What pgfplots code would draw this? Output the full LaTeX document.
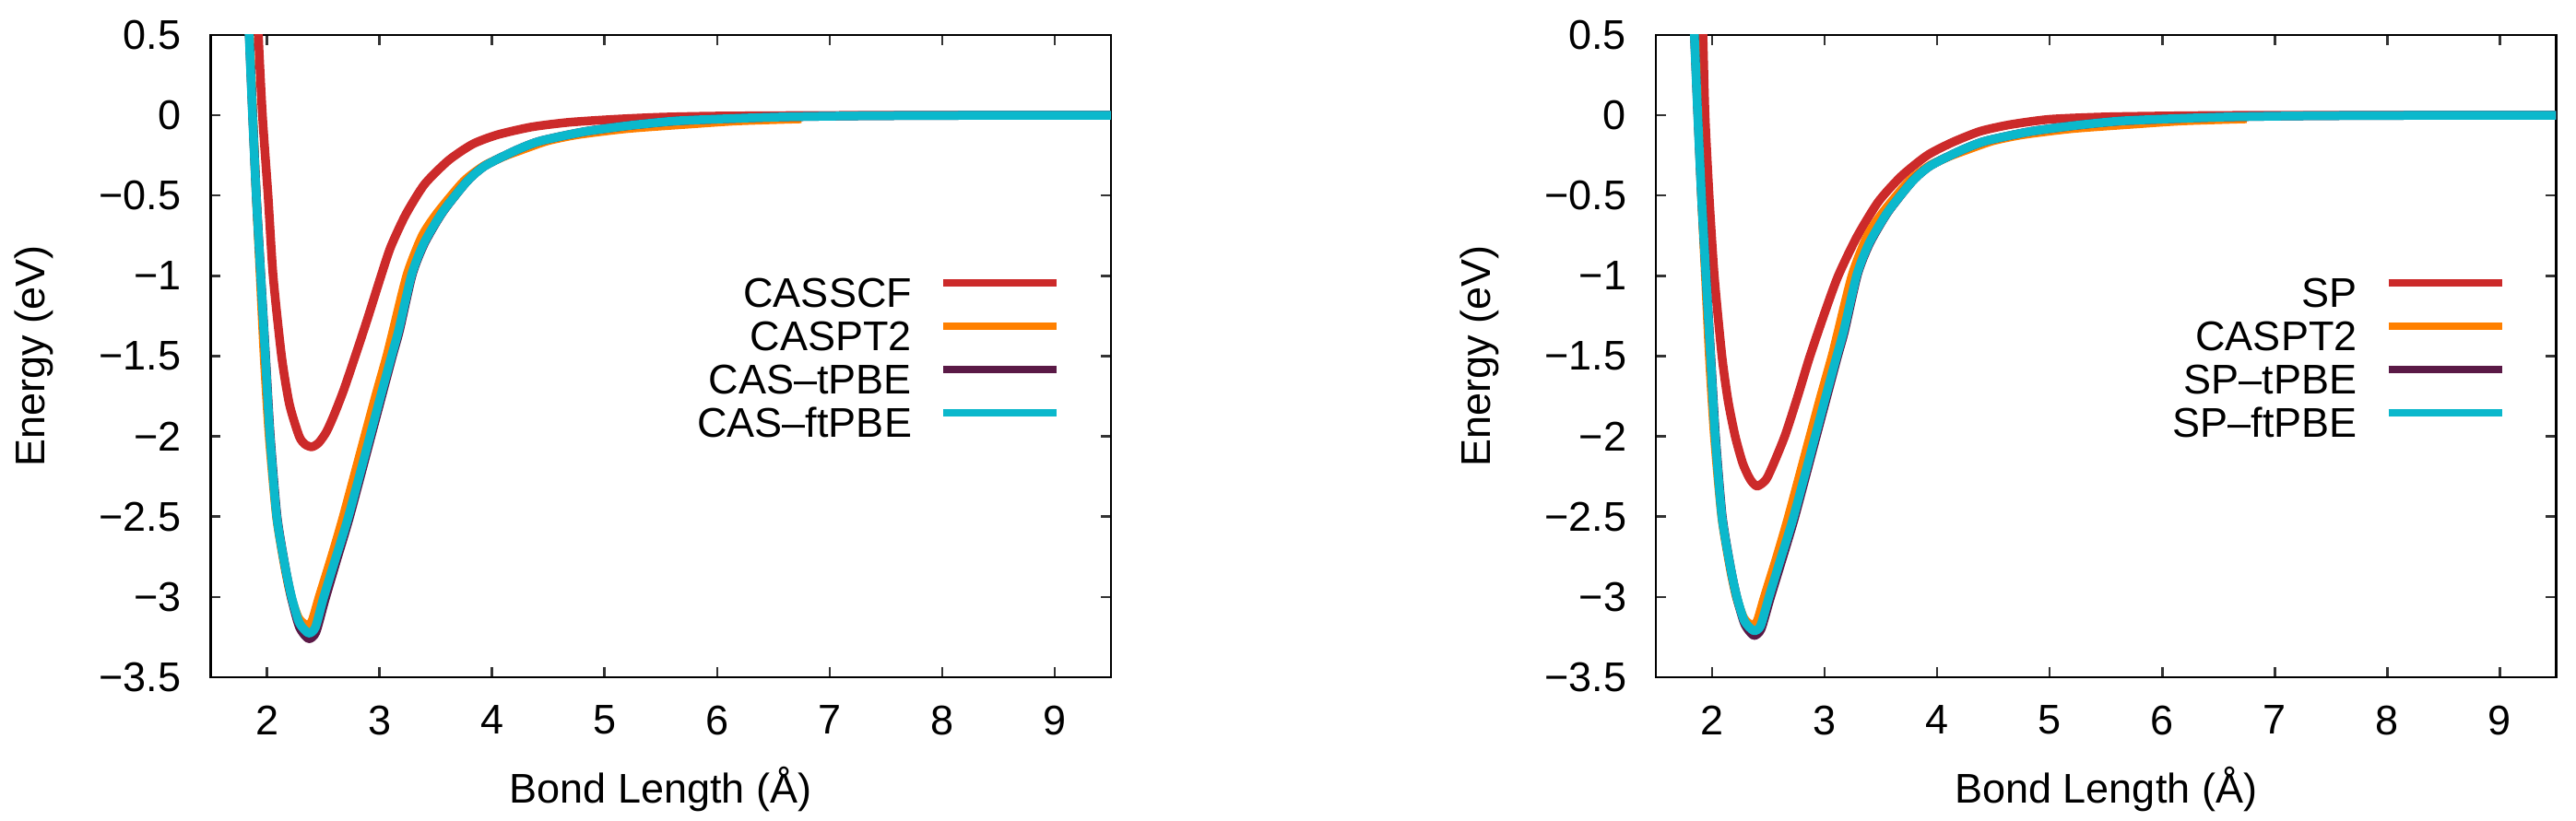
\documentclass[border=0pt]{standalone}
\usepackage{fontspec}
\setmainfont{Liberation Sans}
\usepackage{pgfplots}
\usepackage{pgfplotstable}
\pgfplotsset{compat=1.18}

\definecolor{cred}{HTML}{CC2A2A}
\definecolor{corange}{HTML}{FF8000}
\definecolor{cpurple}{HTML}{5A1946}
\definecolor{ccyan}{HTML}{0BB8CC}
\newcommand\lbl{\fontsize{9}{10.8}\selectfont}

% left panel
\pgfplotstableread{
x y
1.88 1.3
1.924 0.5
1.96 0.0
2.01 -0.5
2.055 -1.0
2.13 -1.5
2.20 -1.80
2.287 -2.0
2.34 -2.05
2.40 -2.065
2.46 -2.04
2.53 -1.97
2.60 -1.86
2.683 -1.71
2.78 -1.51
2.888 -1.28
3.014 -1.0
3.10 -0.82
3.232 -0.62
3.40 -0.43
3.615 -0.28
3.83 -0.179
4.05 -0.121
4.35 -0.073
4.68 -0.044
5.09 -0.025
5.5 -0.012
6.0 -0.005
7.0 -0.001
8.0 0
9.5 0
}\casscf

\pgfplotstableread{
x y
1.80 1.2
1.845 0.5
1.875 0.0
1.905 -0.5
1.94 -1.0
1.975 -1.5
2.02 -2.0
2.085 -2.5
2.16 -2.82
2.215 -3.0
2.28 -3.13
2.35 -3.175
2.40 -3.15
2.464 -3.0
2.57 -2.76
2.678 -2.5
2.869 -2.0
2.965 -1.75
3.065 -1.5
3.117 -1.353
3.246 -0.99
3.38 -0.75
3.52 -0.602
3.75 -0.41
3.93 -0.314
4.107 -0.256
4.257 -0.217
4.49 -0.16
4.76 -0.121
5.2 -0.083
5.77 -0.054
6.18 -0.035
6.75 -0.022
}\caspt

\pgfplotstableread{
x y
1.80 1.25
1.843 0.5
1.873 0.0
1.906 -0.5
1.946 -1.0
1.988 -1.5
2.03 -2.0
2.09 -2.5
2.167 -2.83
2.222 -3.02
2.29 -3.19
2.37 -3.26
2.435 -3.22
2.515 -3.02
2.62 -2.77
2.735 -2.5
2.925 -2.0
3.02 -1.75
3.115 -1.5
3.178 -1.34
3.292 -0.99
3.40 -0.797
3.562 -0.603
3.78 -0.41
3.94 -0.314
4.216 -0.217
4.43 -0.16
4.82 -0.102
5.23 -0.063
5.64 -0.035
6.18 -0.019
6.6 -0.01
7.2 -0.004
8.0 -0.001
9.5 0
}\castpbe

\pgfplotstableread{
x y
1.80 1.25
1.842 0.5
1.872 0.0
1.905 -0.5
1.945 -1.0
1.986 -1.5
2.027 -2.0
2.087 -2.5
2.164 -2.82
2.219 -3.0
2.287 -3.16
2.369 -3.225
2.43 -3.19
2.505 -3.0
2.61 -2.76
2.724 -2.5
2.915 -2.0
3.01 -1.75
3.107 -1.5
3.17 -1.34
3.287 -0.99
3.396 -0.795
3.56 -0.602
3.78 -0.41
3.94 -0.314
4.216 -0.217
4.43 -0.16
4.82 -0.102
5.23 -0.063
5.64 -0.035
6.18 -0.019
6.6 -0.01
7.2 -0.004
8.0 -0.001
9.5 0
}\casftpbe

% right panel
\pgfplotstableread{
x y
1.89 1.2
1.918 0.5
1.937 0.0
1.973 -0.5
2.019 -1.0
2.087 -1.5
2.142 -1.78
2.205 -2.0
2.273 -2.17
2.34 -2.27
2.40 -2.31
2.478 -2.27
2.546 -2.17
2.65 -1.99
2.765 -1.74
2.869 -1.5
3.005 -1.22
3.12 -1.0
3.284 -0.76
3.475 -0.54
3.68 -0.38
3.91 -0.25
4.13 -0.17
4.38 -0.10
4.65 -0.058
5.0 -0.025
5.5 -0.01
6.2 -0.003
7.0 0
9.5 0
}\sp

\pgfplotstableread{
x y
1.80 1.25
1.843 0.5
1.873 0.0
1.906 -0.5
1.946 -1.0
1.988 -1.5
2.03 -2.0
2.09 -2.5
2.167 -2.83
2.222 -3.01
2.29 -3.17
2.37 -3.24
2.435 -3.2
2.515 -3.01
2.62 -2.77
2.735 -2.5
2.925 -2.0
3.02 -1.75
3.115 -1.5
3.178 -1.34
3.292 -0.99
3.40 -0.797
3.562 -0.603
3.78 -0.41
3.94 -0.314
4.216 -0.217
4.43 -0.16
4.82 -0.102
5.23 -0.063
5.64 -0.035
6.18 -0.019
6.6 -0.01
7.2 -0.004
8.0 -0.001
9.5 0
}\sptpbe

\pgfplotstableread{
x y
1.80 1.25
1.842 0.5
1.872 0.0
1.905 -0.5
1.945 -1.0
1.986 -1.5
2.027 -2.0
2.087 -2.5
2.164 -2.82
2.219 -3.0
2.287 -3.15
2.369 -3.21
2.43 -3.18
2.505 -3.0
2.61 -2.76
2.724 -2.5
2.915 -2.0
3.01 -1.75
3.107 -1.5
3.17 -1.34
3.287 -0.99
3.396 -0.795
3.56 -0.602
3.78 -0.41
3.94 -0.314
4.216 -0.217
4.43 -0.16
4.82 -0.102
5.23 -0.063
5.64 -0.035
6.18 -0.019
6.6 -0.01
7.2 -0.004
8.0 -0.001
9.5 0
}\spftpbe

\pgfplotsset{
  pes/.style={
    scale only axis, width=195.3pt, height=139.4pt,
    xmin=1.5, xmax=9.5, ymin=-3.5, ymax=0.5,
    xtick={2,...,9}, ytick={-3.5,-3,...,0.5},
    yticklabels={−3.5,−3,−2.5,−2,−1.5,−1,−0.5,0,0.5},
    tick align=inside, tick pos=both, major tick length=2.2pt,
    axis line style={line width=0.5pt},
    tick style={line width=0.5pt, black!80},
    /pgf/number format/assume math mode=true,
    ticklabel style={font=\lbl},
    yticklabel style={inner sep=0pt, xshift=-6.2pt},
    xticklabel style={inner sep=0pt, yshift=-6pt},
    every axis y label/.style={at={(rel axis cs:0,0.5)}, xshift=-38.3pt, rotate=90, anchor=center, font=\lbl},
    every axis x label/.style={at={(rel axis cs:0.5,0)}, yshift=-24.4pt, anchor=center, font=\lbl},
    xlabel={Bond Length (Å)}, ylabel={Energy (eV)},
    legend plot pos=right, legend cell align=right,
    legend image code/.code={\draw[#1, line width=1.6pt] (0pt,3.26pt) -- (24.6pt,3.26pt);},
    legend style={draw=none, fill=none, inner sep=0pt, outer sep=0pt, row sep=0pt, column sep=6pt, font=\lbl,
      nodes={inner sep=0pt, outer sep=0pt, text height=6.6pt, text depth=2.8pt},
      at={(axis cs:9.05,-1.005)}, anchor=north east},
    every axis plot/.append style={line width=1.9pt, line join=round, mark=none, smooth, tension=0.4},
  }}

\begin{document}
\begin{tikzpicture}
\useasboundingbox (-45.7pt,-31.2pt) rectangle (513.1pt,147pt);
\begin{axis}[pes]
\addplot[cred] table {\casscf};
\addplot[corange] table {\caspt};
\addplot[cpurple] table {\castpbe};
\addplot[ccyan] table {\casftpbe};
\legend{CASSCF, CASPT2, CAS–tPBE, CAS–ftPBE}
\end{axis}
\begin{axis}[pes, at={(313.5pt,0pt)}]
\addplot[cred] table {\sp};
\addplot[corange] table {\caspt};
\addplot[cpurple] table {\sptpbe};
\addplot[ccyan] table {\spftpbe};
\legend{SP, CASPT2, SP–tPBE, SP–ftPBE}
\end{axis}
\end{tikzpicture}
\end{document}
